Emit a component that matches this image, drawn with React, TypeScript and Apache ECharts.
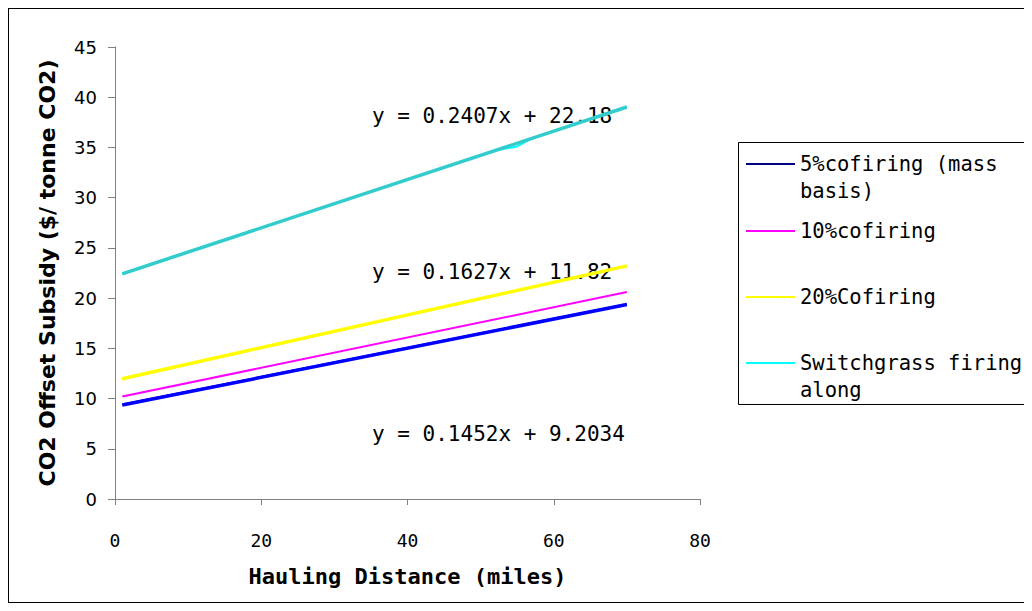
import React, { useEffect, useRef } from "react";
import * as echarts from "echarts";

// ---- data ----
const distances = [1, 70];
const cofire5 = [9.4, 19.4];
const cofire10 = [10.2, 20.6];
const cofire20 = [11.95, 23.2];
const sgDistances = [1, 52, 55, 57, 70];
const sgValues = [22.45, 34.7, 35.1, 35.9, 39.04];
const trend5 = [9.35, 19.37];
const trend20 = [11.98, 23.21];
const trendSG = [22.42, 39.03];
const seriesNames = [
  "5%cofiring (mass basis)",
  "10%cofiring",
  "20%Cofiring",
  "Switchgrass firing along",
];
const legendLabels = [
  "\n5%cofiring (mass\nbasis)",
  "10%cofiring",
  "20%Cofiring",
  "\nSwitchgrass firing\nalong",
];
const trendLabels = [
  "y = 0.2407x + 22.18",
  "y = 0.1627x + 11.82",
  "y = 0.1452x + 9.2034",
];
const xTitle = "Hauling Distance (miles)";
const yTitle = "CO2 Offset Subsidy ($/ tonne CO2)";

const pairs = (xs: number[], ys: number[]) => xs.map((x, i) => [x, ys[i]]);

export default function App() {
  const ref = useRef<HTMLDivElement>(null);
  useEffect(() => {
    document.body.style.overflow = "hidden";
    const chart = echarts.init(ref.current!, null, { renderer: "svg" });
    const mono = "DejaVu Sans Mono";
    const lineBase = { type: "line", symbol: "none", showSymbol: false, silent: true };
    const legendTops = [155, 222, 288, 354];
    const LH = 27;
    const legends = seriesNames.map((name, i) => {
      const lines = legendLabels[i].split("\n").length;
      return {
        orient: "vertical",
        left: 737,
        top: legendTops[i] - (LH * lines) / 2,
        padding: 0,
        icon: "rect",
        itemWidth: 49,
        itemHeight: 2,
        itemGap: 0,
        selectedMode: false,
        formatter: (n: string) => legendLabels[seriesNames.indexOf(n)],
        textStyle: {
          fontFamily: mono,
          fontSize: 20.5,
          color: "#000",
          lineHeight: LH,
          width: 240,
          overflow: "none",
        },
        data: [name],
      };
    });
    chart.setOption({
      animation: false,
      backgroundColor: "#fff",
      grid: { left: 106, top: 38, width: 585, height: 452, containLabel: false },
      xAxis: {
        type: "value",
        min: 0,
        max: 80,
        interval: 20,
        name: xTitle,
        nameLocation: "middle",
        nameGap: 66,
        nameTextStyle: { fontFamily: mono, fontWeight: "bold", fontSize: 22, color: "#000" },
        axisLine: { lineStyle: { color: "#808080", width: 1 } },
        axisTick: { length: 6, lineStyle: { color: "#808080" } },
        axisLabel: { margin: 32, fontFamily: mono, fontSize: 18, color: "#000" },
        splitLine: { show: false },
      },
      yAxis: {
        type: "value",
        min: 0,
        max: 45,
        interval: 5,
        name: yTitle,
        nameLocation: "middle",
        nameGap: 57,
        nameRotate: 90,
        nameTextStyle: { fontFamily: "DejaVu Sans", fontWeight: "bold", fontSize: 22, color: "#000" },
        axisLine: { show: true, lineStyle: { color: "#808080", width: 1 } },
        axisTick: { show: true, length: 7, lineStyle: { color: "#808080" } },
        axisLabel: { margin: 18, fontFamily: "DejaVu Sans", fontSize: 18, color: "#000" },
        splitLine: { show: false },
      },
      legend: legends,
      graphic: [
        {
          type: "rect",
          shape: { x: 729.5, y: 133.5, width: 320, height: 262 },
          style: { fill: "none", stroke: "#000", lineWidth: 1 },
          silent: true,
        },
        {
          type: "text",
          left: 363,
          top: 96,
          style: { text: trendLabels[0], fontFamily: mono, fontSize: 21, fill: "#000" },
        },
        {
          type: "text",
          left: 363,
          top: 252,
          style: { text: trendLabels[1], fontFamily: mono, fontSize: 21, fill: "#000" },
        },
        {
          type: "text",
          left: 363,
          top: 414,
          style: { text: trendLabels[2], fontFamily: mono, fontSize: 21, fill: "#000" },
        },
      ],
      series: [
        { ...lineBase, name: seriesNames[0], data: pairs(distances, cofire5), lineStyle: { color: "#000080", width: 2 }, itemStyle: { color: "#000080" }, z: 2 },
        { ...lineBase, name: seriesNames[1], data: pairs(distances, cofire10), lineStyle: { color: "#FF00FF", width: 2 }, itemStyle: { color: "#FF00FF" }, z: 3 },
        { ...lineBase, name: seriesNames[2], data: pairs(distances, cofire20), lineStyle: { color: "#FFFF00", width: 2 }, itemStyle: { color: "#FFFF00" }, z: 2 },
        { ...lineBase, name: seriesNames[3], data: pairs(sgDistances, sgValues), lineStyle: { color: "#00FFFF", width: 2 }, itemStyle: { color: "#00FFFF" }, z: 2 },
        { ...lineBase, name: "trend5", data: pairs(distances, trend5), lineStyle: { color: "#0000FF", width: 3.5 }, z: 4 },
        { ...lineBase, name: "trend20", data: pairs(distances, trend20), lineStyle: { color: "#FFFF00", width: 3.5 }, z: 4 },
        { ...lineBase, name: "trendSG", data: pairs(distances, trendSG), lineStyle: { color: "#33CCCC", width: 3.5 }, z: 4 },
      ],
    });
    return () => chart.dispose();
  }, []);
  return (
    <div
      style={{
        width: 1024,
        height: 595,
        boxSizing: "border-box",
        borderLeft: "1px solid #000",
        borderTop: "1px solid #000",
        borderBottom: "1px solid #000",
        background: "#fff",
      }}
    >
      <div ref={ref} style={{ width: 1023, height: 593 }} />
    </div>
  );
}
